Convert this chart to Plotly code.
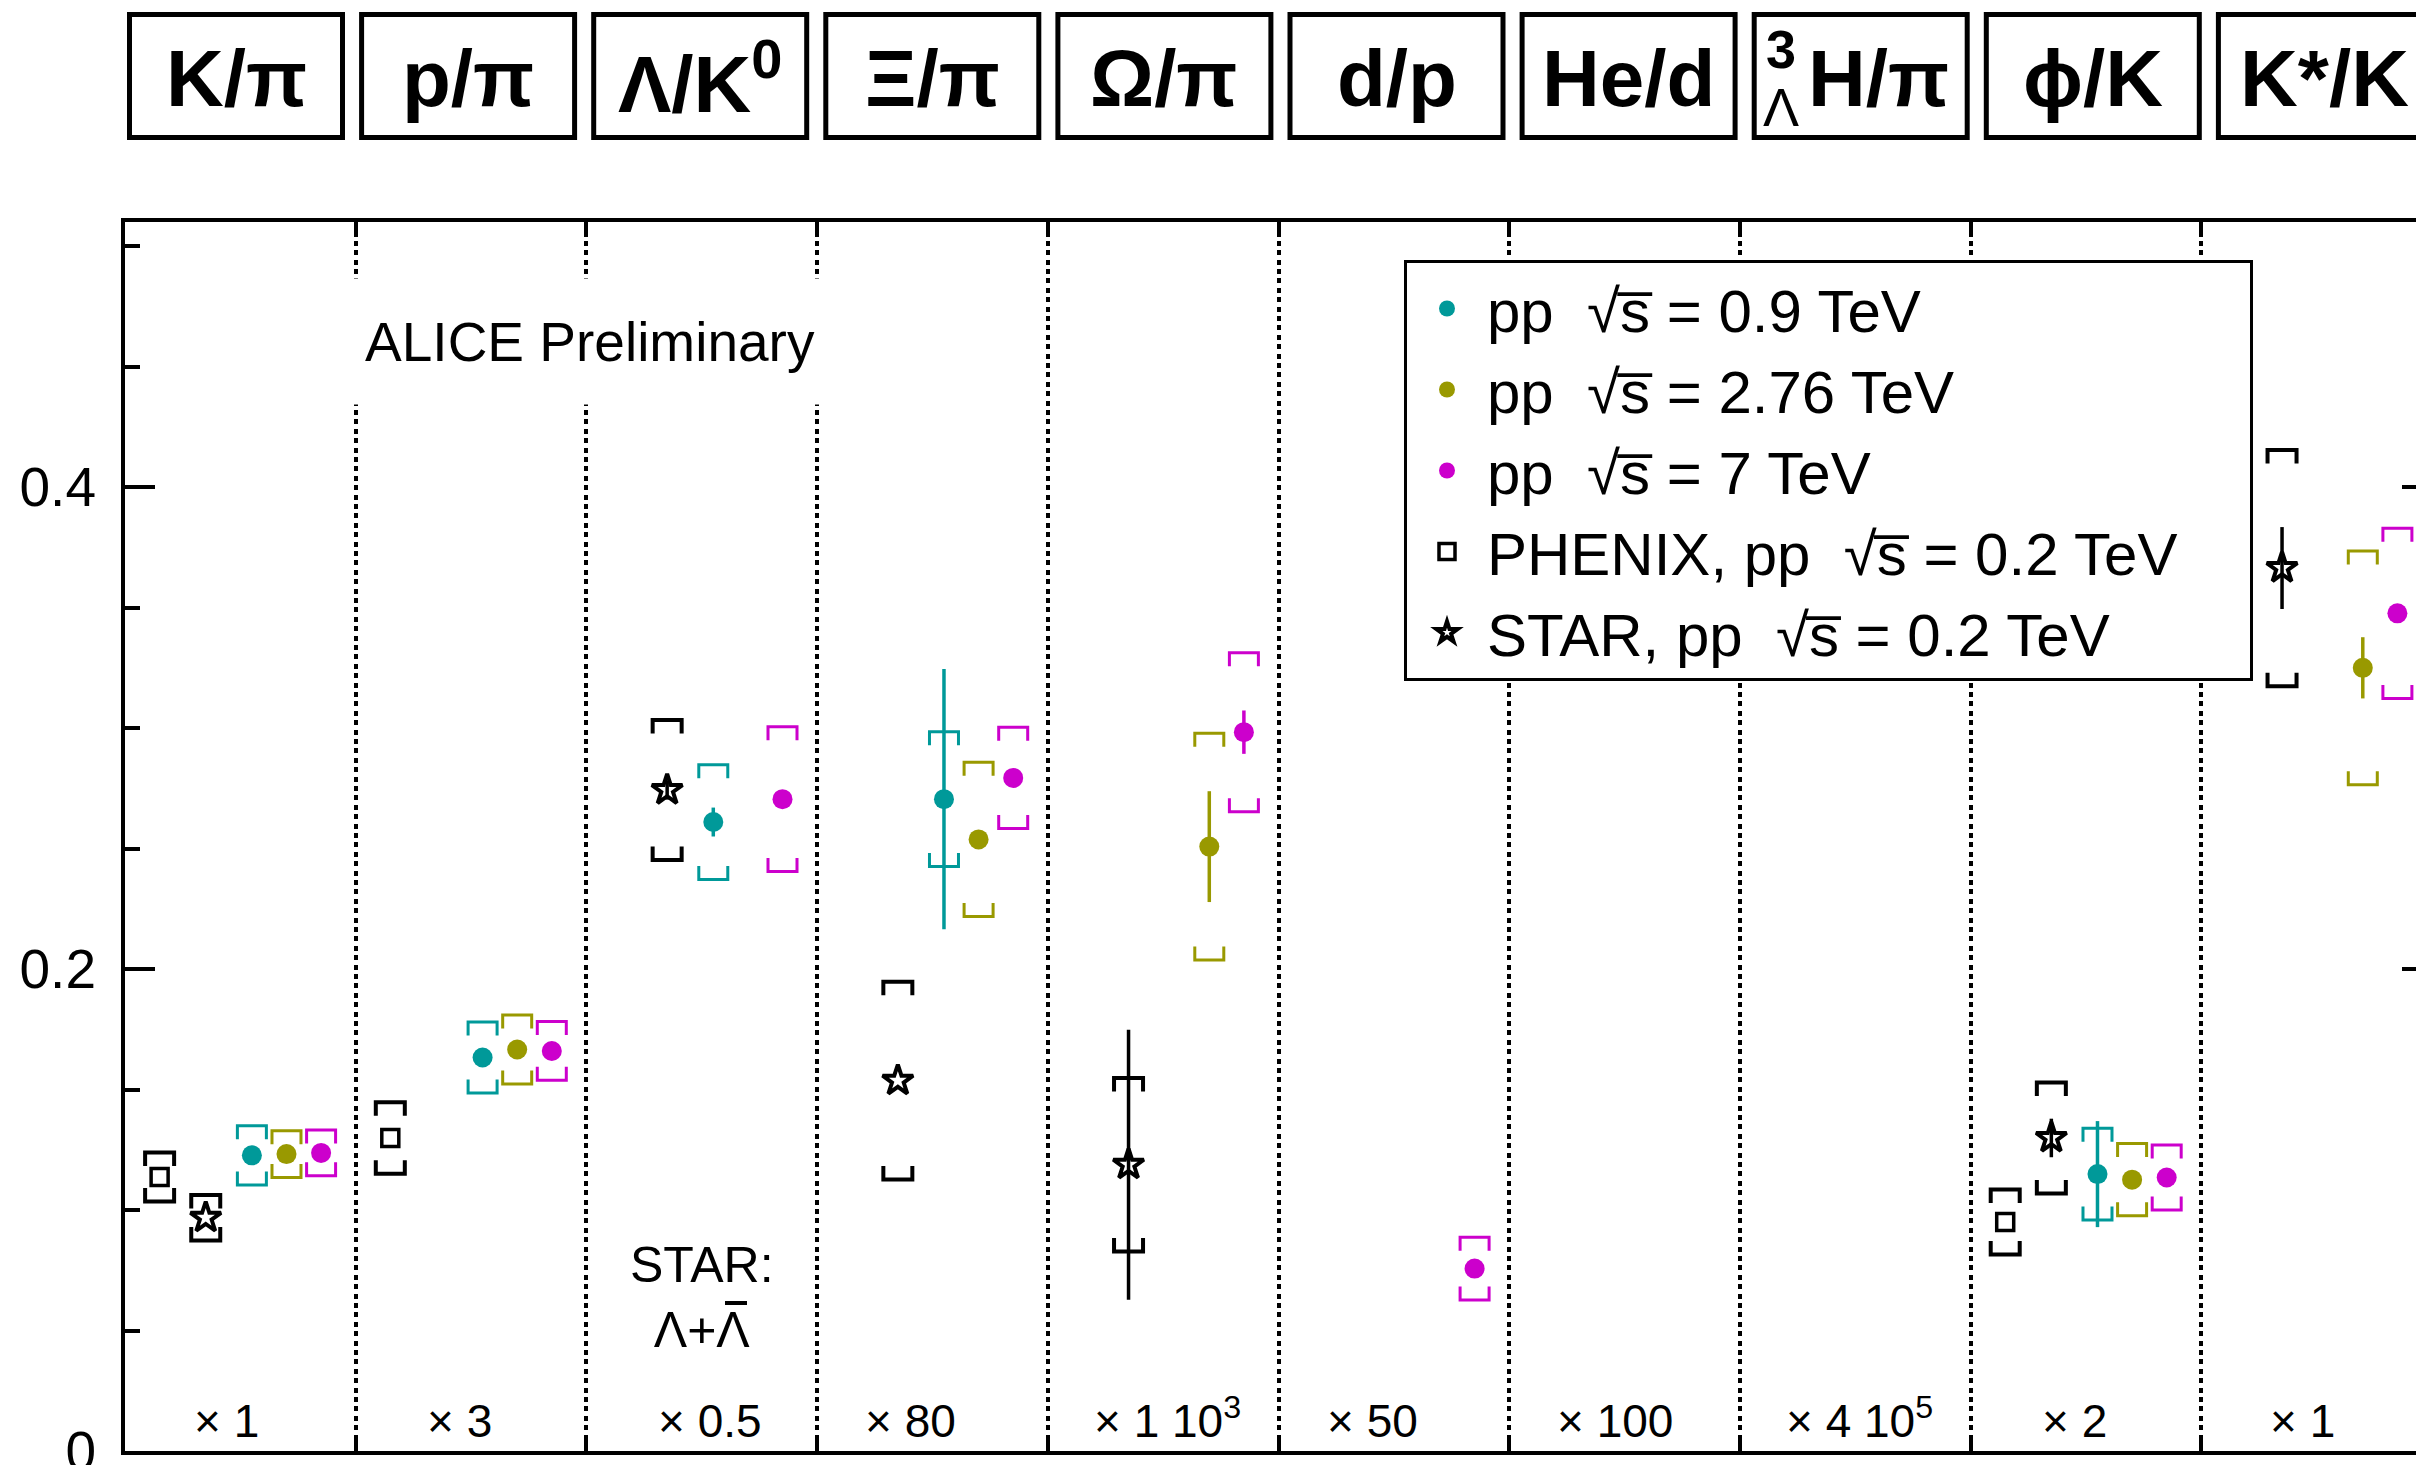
import plotly.graph_objects as go

# ---------------- data ----------------
categories = ["K/π", "p/π", "Λ/K<sup>0</sup>", "Ξ/π", "Ω/π", "d/p", "He/d", "H/π", "ϕ/K", "K*/K"]
scale_labels = ["× 1", "× 3", "× 0.5", "× 80", "× 1 10<sup>3</sup>", "× 50", "× 100",
                "× 4 10<sup>5</sup>", "× 2", "× 1"]

alice_09 = [0.1227, 0.1633, 0.2610, 0.2705, None, None, None, None, 0.1149, None]
alice_09_stat = [0.0, 0.0, 0.006, 0.054, None, None, None, None, 0.022, None]
alice_09_syst = [0.0123, 0.0147, 0.0238, 0.028, None, None, None, None, 0.019, None]

alice_276 = [0.1232, 0.1666, None, 0.2538, 0.2508, None, None, None, 0.1126, 0.3250]
alice_276_stat = [0.0, 0.0, None, 0.0, 0.023, None, None, None, 0.0, 0.0127]
alice_276_syst = [0.0097, 0.0143, None, 0.032, 0.047, None, None, None, 0.015, 0.0485]

alice_7 = [0.1237, 0.1660, 0.2705, 0.2793, 0.2983, 0.0757, None, None, 0.1135, 0.3476]
alice_7_stat = [0.0, 0.0, 0.0, 0.0, 0.009, 0.0, None, None, 0.0, 0.0]
alice_7_syst = [0.0095, 0.0122, 0.030, 0.021, 0.033, 0.013, None, None, 0.0135, 0.0353]

phenix = [0.1137, 0.1299, None, None, None, None, None, None, 0.0950, None]
phenix_syst = [0.0102, 0.0148, None, None, None, None, None, None, 0.0135, None]

star = [0.0968, None, 0.2743, 0.1537, 0.1188, None, None, None, 0.1299, 0.3664]
star_stat = [0.0, None, 0.004, 0.0, 0.056, None, None, None, 0.008, 0.017]
star_syst = [0.0094, None, 0.029, 0.041, 0.036, None, None, None, 0.023, 0.049]

SQRT_S = "√s\u0305"
PAD = "\u00a0" * 4
legend_names = [
    f"pp  {SQRT_S} = 0.9 TeV",
    f"pp  {SQRT_S} = 2.76 TeV",
    f"pp  {SQRT_S} = 7 TeV",
    f"PHENIX, pp  {SQRT_S} = 0.2 TeV{PAD}",
    f"STAR, pp  {SQRT_S} = 0.2 TeV",
]

# ---------------- styling / layout constants ----------------
FONT = "Liberation Sans, Arial, Helvetica, sans-serif"
TEAL, OLIVE, MAGENTA, BLACK = "#009999", "#999900", "#CC00CC", "#000000"
W, H = 2416, 1465
L, R, T, B = 125, 0, 222, 14
CAT_PX = 230.7
X_MAX = (W - L - R) / CAT_PX
Y_MAX = 0.51
PLOT_H = H - T - B

offsets = {"p": -0.35, "s": -0.15, "a09": 0.05, "a276": 0.20, "a7": 0.35}
BR_HALF = 14.5 / CAT_PX          # bracket half width (x units)
BR_LEG = 13.5 / (PLOT_H / Y_MAX)  # bracket leg length (y units)


def xpos(off):
    return [i + 0.5 + off for i in range(len(categories))]


def brackets(xs, ys, errs):
    bx, by = [], []
    for x, y, e in zip(xs, ys, errs):
        if y is None or e is None:
            continue
        top, bot = y + e, y - e
        bx += [x - BR_HALF, x - BR_HALF, x + BR_HALF, x + BR_HALF, None,
               x - BR_HALF, x - BR_HALF, x + BR_HALF, x + BR_HALF, None]
        by += [top - BR_LEG, top, top, top - BR_LEG, None,
               bot + BR_LEG, bot, bot, bot + BR_LEG, None]
    return bx, by


fig = go.Figure()

series = [
    (alice_09, alice_09_stat, alice_09_syst, offsets["a09"], TEAL, "circle", 20, 0, 3),
    (alice_276, alice_276_stat, alice_276_syst, offsets["a276"], OLIVE, "circle", 20, 0, 3),
    (alice_7, alice_7_stat, alice_7_syst, offsets["a7"], MAGENTA, "circle", 20, 0, 3),
    (phenix, None, phenix_syst, offsets["p"], BLACK, "square-open", 17, 3.5, 4),
    (star, star_stat, star_syst, offsets["s"], BLACK, "star-open", 23, 4, 4),
]

# systematic brackets
for vals, stat, syst, off, col, sym, size, lw, blw in series:
    bx, by = brackets(xpos(off), vals, syst)
    fig.add_trace(go.Scatter(x=bx, y=by, mode="lines", line=dict(color=col, width=blw),
                             showlegend=False, hoverinfo="skip"))

# points with statistical errors
for (vals, stat, syst, off, col, sym, size, lw, blw), name in zip(series, legend_names):
    err = None
    if stat is not None:
        err = dict(type="data", array=stat, visible=True, thickness=3.5, width=0, color=col)
    fig.add_trace(go.Scatter(
        x=xpos(off), y=vals, mode="markers", name=name,
        marker=dict(symbol=sym, size=size, color=col, line=dict(color=col, width=lw)),
        error_y=err, showlegend=True))

# dummy trace for right-hand axis ticks
fig.add_trace(go.Scatter(x=[None], y=[None], yaxis="y2", showlegend=False, hoverinfo="skip"))

# ---------------- header boxes ----------------
BOX_L0 = 2.0 / CAT_PX
BOX_STEP = 232.1 / CAT_PX
BOX_W = 218.0 / CAT_PX
INSET = 2.5 / CAT_PX


def ypap(px):
    return (H - B - px) / PLOT_H


shapes = []
annotations = []
for i, lab in enumerate(categories):
    left = BOX_L0 + BOX_STEP * i
    shapes.append(dict(type="rect", xref="paper", yref="paper",
                       x0=(left + INSET) / X_MAX, x1=(left + BOX_W - INSET) / X_MAX,
                       y0=ypap(137.5), y1=ypap(14.5),
                       line=dict(color="black", width=5), fillcolor="white", layer="above"))
    if i == 7:
        annotations.append(dict(x=left + 0.236, y=ypap(78), xref="x", yref="paper",
                                text=lab, showarrow=False, xanchor="left", yanchor="middle",
                                font=dict(family=FONT, size=80, color="black", weight="bold")))
        annotations.append(dict(x=left + 0.127, y=ypap(49), xref="x", yref="paper",
                                text="3", showarrow=False, xanchor="center", yanchor="middle",
                                font=dict(family=FONT, size=54, color="black", weight="bold")))
        annotations.append(dict(x=left + 0.127, y=ypap(107), xref="x", yref="paper",
                                text="Λ", showarrow=False, xanchor="center", yanchor="middle",
                                font=dict(family=FONT, size=54, color="black")))
    else:
        annotations.append(dict(x=left + BOX_W / 2, y=ypap(78), xref="x", yref="paper",
                                text=lab, showarrow=False, xanchor="center", yanchor="middle",
                                font=dict(family=FONT, size=80, color="black", weight="bold")))

# scale factor labels at the bottom
label_offsets = [0.29, 0.30, 0.30, 0.20, 0.19, 0.20, 0.20, 0.19, 0.30, 0.29]
for i, (lab, lo) in enumerate(zip(scale_labels, label_offsets)):
    annotations.append(dict(x=i + lo, y=0, xref="x", yref="y", text=lab, showarrow=False,
                            xanchor="left", yanchor="bottom", yshift=2,
                            font=dict(family=FONT, size=46, color="black")))

# ALICE Preliminary
annotations.append(dict(x=(590 - L) / CAT_PX, y=ypap(341.5), xref="x", yref="paper",
                        text="ALICE Preliminary", showarrow=False, xanchor="center",
                        yanchor="middle", bgcolor="white", width=500, height=123,
                        font=dict(family=FONT, size=55, color="black")))
# STAR: Lambda + anti-Lambda note
annotations.append(dict(x=2.5, y=ypap(1297), xref="x", yref="paper",
                        text="STAR:<br>Λ+Λ", showarrow=False, xanchor="center",
                        yanchor="middle", align="center",
                        font=dict(family=FONT, size=50, color="black")))
# bar over the anti-Lambda
shapes.append(dict(type="line", xref="x", yref="paper",
                   x0=(725 - L) / CAT_PX, x1=(747 - L) / CAT_PX,
                   y0=ypap(1303), y1=ypap(1303), line=dict(color="black", width=4)))

fig.update_layout(
    width=W, height=H,
    margin=dict(l=L, r=R, t=T, b=B, pad=0, autoexpand=False),
    paper_bgcolor="white", plot_bgcolor="white",
    font=dict(family=FONT, color="black"),
    shapes=shapes, annotations=annotations,
    legend=dict(x=(1404 - L) / (W - L - R), y=ypap(260), xanchor="left", yanchor="top",
                bgcolor="white", bordercolor="black", borderwidth=3,
                font=dict(family=FONT, size=60, color="black"), itemwidth=70,
                traceorder="normal"),
    xaxis=dict(range=[0, X_MAX], tickvals=list(range(1, 10)), showticklabels=False,
               ticks="inside", ticklen=15, tickwidth=3.5, tickcolor="black",
               showline=True, linewidth=4, linecolor="black", mirror="ticks",
               showgrid=True, gridcolor="black", gridwidth=3.5, griddash="5px,4.4px",
               zeroline=False, fixedrange=True, automargin=False),
    yaxis=dict(range=[0, Y_MAX], tickvals=[0, 0.2, 0.4], ticktext=["0", "0.2", "0.4"],
               ticks="inside", ticklen=30, tickwidth=4, tickcolor="black",
               minor=dict(dtick=0.05, tick0=0, ticks="inside", ticklen=15, tickwidth=4,
                          tickcolor="black", showgrid=False),
               showline=True, linewidth=4, linecolor="black", mirror=False,
               showgrid=False, zeroline=False, ticklabelstandoff=14,
               ticklabeloverflow="allow", automargin=False,
               tickfont=dict(family=FONT, size=55, color="black")),
    yaxis2=dict(range=[0, Y_MAX], overlaying="y", side="right", anchor="x",
                tickvals=[0.2, 0.4], ticks="inside", ticklen=14, tickwidth=4,
                tickcolor="black", showticklabels=False, showgrid=False,
                zeroline=False, showline=False, automargin=False),
)

fig.write_html("out.html")
